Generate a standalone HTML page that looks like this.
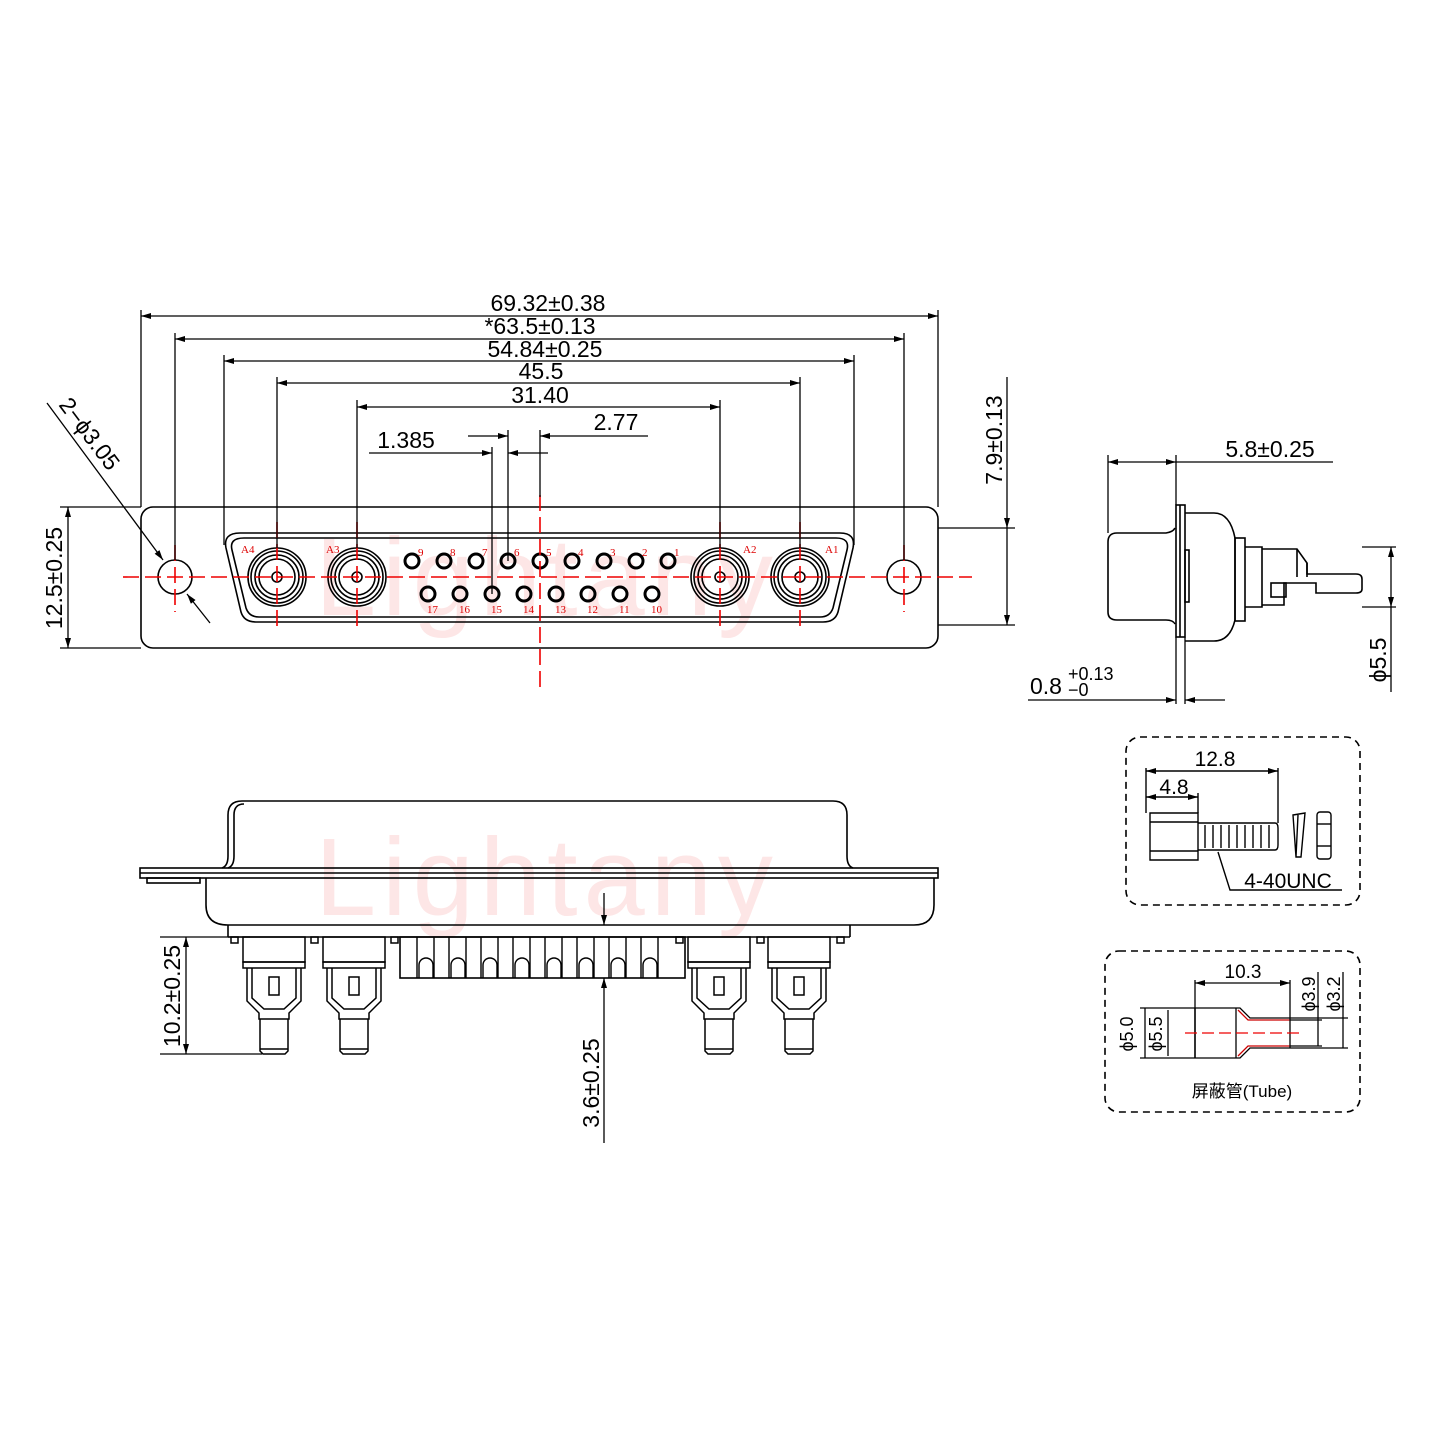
<!DOCTYPE html>
<html><head><meta charset="utf-8"><style>
html,body{margin:0;padding:0;background:#fff;width:1440px;height:1440px;overflow:hidden}
svg{display:block}
text{font-family:"Liberation Sans","Noto Sans CJK SC",sans-serif;fill:#000}
.r{fill:#d00;font-family:"Liberation Serif",serif;font-size:11px}
</style></head><body>
<svg width="1440" height="1440" viewBox="0 0 1440 1440" xmlns="http://www.w3.org/2000/svg">
<defs>
<marker id="a" viewBox="0 0 10 6" refX="10" refY="3" markerWidth="14" markerHeight="6" orient="auto-start-reverse" markerUnits="userSpaceOnUse"><path d="M0,0 L10,3 L0,6 z" fill="#000"/></marker>
<g id="cx">
<circle cx="0" cy="0" r="29"/><circle cx="0" cy="0" r="26"/><circle cx="0" cy="0" r="22"/><circle cx="0" cy="0" r="18"/><circle cx="0" cy="0" r="5"/>
</g>
<g id="ct">
<rect x="-31" y="0" width="62" height="25"/><rect x="-31" y="25" width="62" height="6"/>
<path d="M-27,31 V64 L-15,76 V82 H15 V76 L27,64 V31"/>
<path d="M-22,31 V61 L-10,72 H10 L22,61 V31"/>
<rect x="-5" y="40" width="10" height="18"/>
<path d="M-14,82 V114 L-11,117 H11 L14,114 V82"/>
<line x1="-14" y1="112" x2="14" y2="112"/>
</g>
</defs>
<!-- watermark -->
<text x="315" y="615" font-size="110" style="fill:#fde6e6" letter-spacing="6">Lightany</text>
<text x="315" y="915" font-size="110" style="fill:#fde6e6" letter-spacing="6">Lightany</text>

<g fill="none" stroke="#000" stroke-width="1.6">
<rect x="141" y="507" width="797" height="141" rx="12"/>
<circle cx="175" cy="577" r="17"/>
<circle cx="904" cy="577" r="17"/>
<path d="M240,533 H840 Q856,533 853,548 L838,612 Q835,622 823,622 H256 Q244,622 241,612 L226,548 Q223,533 240,533 Z"/>
<path d="M244,538 H836 Q850,538 847,550 L833,608 Q830,617 820,617 H259 Q249,617 246,608 L232,550 Q229,538 244,538 Z"/>
</g>
<g fill="none" stroke="#000" stroke-width="1.6">
<use href="#cx" x="277" y="577"/><use href="#cx" x="357" y="577"/><use href="#cx" x="720" y="577"/><use href="#cx" x="800" y="577"/>
</g>
<g fill="none" stroke="#000" stroke-width="3">
<circle cx="412" cy="561" r="7"/><circle cx="444" cy="561" r="7"/><circle cx="476" cy="561" r="7"/><circle cx="508" cy="561" r="7"/><circle cx="540" cy="561" r="7"/><circle cx="572" cy="561" r="7"/><circle cx="604" cy="561" r="7"/><circle cx="636" cy="561" r="7"/><circle cx="668" cy="561" r="7"/>
<circle cx="428" cy="594" r="7"/><circle cx="460" cy="594" r="7"/><circle cx="492" cy="594" r="7"/><circle cx="524" cy="594" r="7"/><circle cx="556" cy="594" r="7"/><circle cx="588" cy="594" r="7"/><circle cx="620" cy="594" r="7"/><circle cx="652" cy="594" r="7"/>
</g>
<g>
<text class="r" x="241" y="553">A4</text><text class="r" x="326" y="553">A3</text><text class="r" x="743" y="553">A2</text><text class="r" x="825" y="553">A1</text>
<text class="r" x="418" y="556">9</text><text class="r" x="450" y="556">8</text><text class="r" x="482" y="556">7</text><text class="r" x="514" y="556">6</text><text class="r" x="546" y="556">5</text><text class="r" x="578" y="556">4</text><text class="r" x="610" y="556">3</text><text class="r" x="642" y="556">2</text><text class="r" x="674" y="556">1</text>
<text class="r" x="427" y="613">17</text><text class="r" x="459" y="613">16</text><text class="r" x="491" y="613">15</text><text class="r" x="523" y="613">14</text><text class="r" x="555" y="613">13</text><text class="r" x="587" y="613">12</text><text class="r" x="619" y="613">11</text><text class="r" x="651" y="613">10</text>
</g>
<g stroke="#e00" stroke-width="1.6" stroke-dasharray="16,6" fill="none">
<line x1="123" y1="577" x2="972" y2="577"/>
<line x1="540" y1="495" x2="540" y2="688"/>
<line x1="175" y1="545" x2="175" y2="612"/><line x1="904" y1="545" x2="904" y2="612"/>
<line x1="277" y1="522" x2="277" y2="632"/><line x1="357" y1="522" x2="357" y2="632"/><line x1="720" y1="522" x2="720" y2="632"/><line x1="800" y1="522" x2="800" y2="632"/>
</g>
<g stroke="#000" stroke-width="1.3">
<line x1="141" y1="310" x2="141" y2="507"/><line x1="938" y1="310" x2="938" y2="507"/>
<line x1="175" y1="333" x2="175" y2="560"/><line x1="904" y1="333" x2="904" y2="560"/>
<line x1="224" y1="355" x2="224" y2="545"/><line x1="854" y1="355" x2="854" y2="545"/>
<line x1="277" y1="377" x2="277" y2="548"/><line x1="800" y1="377" x2="800" y2="548"/>
<line x1="357" y1="400" x2="357" y2="548"/><line x1="720" y1="400" x2="720" y2="548"/>
<line x1="492" y1="447" x2="492" y2="594"/><line x1="508" y1="430" x2="508" y2="561"/><line x1="540" y1="430" x2="540" y2="497"/>
<line x1="938" y1="528" x2="1015" y2="528"/><line x1="938" y1="625" x2="1015" y2="625"/>
<line x1="60" y1="507" x2="141" y2="507"/><line x1="60" y1="648" x2="141" y2="648"/>
</g>
<g stroke="#000" stroke-width="1.3" fill="none">
<line x1="141" y1="316" x2="938" y2="316" marker-start="url(#a)" marker-end="url(#a)"/>
<line x1="175" y1="339" x2="904" y2="339" marker-start="url(#a)" marker-end="url(#a)"/>
<line x1="224" y1="361" x2="854" y2="361" marker-start="url(#a)" marker-end="url(#a)"/>
<line x1="277" y1="383" x2="800" y2="383" marker-start="url(#a)" marker-end="url(#a)"/>
<line x1="357" y1="407" x2="720" y2="407" marker-start="url(#a)" marker-end="url(#a)"/>
<line x1="369" y1="453" x2="492" y2="453" marker-end="url(#a)"/><line x1="548" y1="453" x2="508" y2="453" marker-end="url(#a)"/>
<line x1="468" y1="436" x2="508" y2="436" marker-end="url(#a)"/><line x1="648" y1="436" x2="540" y2="436" marker-end="url(#a)"/>
<line x1="1007" y1="377" x2="1007" y2="528" marker-end="url(#a)"/><line x1="1007" y1="625" x2="1007" y2="528" marker-start="url(#a)"/>
<line x1="68" y1="507" x2="68" y2="648" marker-start="url(#a)" marker-end="url(#a)"/>
<line x1="47" y1="403" x2="163" y2="560" marker-end="url(#a)"/>
<line x1="210" y1="623" x2="187" y2="594" marker-end="url(#a)"/>
</g>
<g font-size="23">
<text x="548" y="311" text-anchor="middle">69.32±0.38</text>
<text x="540" y="334" text-anchor="middle">*63.5±0.13</text>
<text x="545" y="357" text-anchor="middle">54.84±0.25</text>
<text x="541" y="379" text-anchor="middle">45.5</text>
<text x="540" y="403" text-anchor="middle">31.40</text>
<text x="406" y="448" text-anchor="middle">1.385</text>
<text x="616" y="430" text-anchor="middle">2.77</text>
<text transform="translate(1002,440) rotate(-90)" text-anchor="middle">7.9±0.13</text>
<text transform="translate(62,578) rotate(-90)" text-anchor="middle">12.5±0.25</text>
<text transform="translate(58,405) rotate(53)">2−ϕ3.05</text>
</g>

<!-- side view -->
<g fill="none" stroke="#000" stroke-width="1.6">
<path d="M1175,528 Q1173,532 1166,533 H1117 Q1108,533 1108,542 V612 Q1108,620 1117,620 H1166 Q1173,620 1175,624"/>
<rect x="1176" y="505" width="9" height="132"/><line x1="1180" y1="505" x2="1180" y2="637"/>
<rect x="1185" y="550" width="4" height="52"/>
<path d="M1185,513 H1214 Q1230,513 1235,538 V620 Q1230,641 1214,641 H1185"/>
<rect x="1235" y="538" width="10" height="83"/>
<path d="M1245,547 H1262 V607 H1245"/>
<path d="M1262,549 H1297 L1307,563 V574 H1356 Q1362,574 1362,579 V589 Q1362,593 1356,593 H1316 V583 H1284 V605 H1262"/>
<line x1="1297" y1="549" x2="1297" y2="577"/><line x1="1307" y1="563" x2="1307" y2="577"/>
<rect x="1271" y="583" width="15" height="14"/>
</g>
<g stroke="#000" stroke-width="1.3" fill="none">
<line x1="1108" y1="455" x2="1108" y2="533"/><line x1="1176" y1="455" x2="1176" y2="505"/>
<line x1="1108" y1="462" x2="1176" y2="462" marker-start="url(#a)" marker-end="url(#a)"/><line x1="1176" y1="462" x2="1333" y2="462"/>
<line x1="1176" y1="637" x2="1176" y2="704"/><line x1="1185" y1="637" x2="1185" y2="704"/>
<line x1="1028" y1="700" x2="1176" y2="700" marker-end="url(#a)"/><line x1="1225" y1="700" x2="1185" y2="700" marker-end="url(#a)"/>
<line x1="1362" y1="547" x2="1396" y2="547"/><line x1="1362" y1="607" x2="1396" y2="607"/>
<line x1="1391" y1="547" x2="1391" y2="607" marker-start="url(#a)" marker-end="url(#a)"/><line x1="1391" y1="607" x2="1391" y2="692"/>
</g>
<text x="1270" y="457" font-size="23" text-anchor="middle">5.8±0.25</text>
<text x="1030" y="694" font-size="23">0.8</text><text x="1068" y="680" font-size="18">+0.13</text><text x="1068" y="696" font-size="18">−0</text>
<text transform="translate(1386,660) rotate(-90)" font-size="23" text-anchor="middle">ϕ5.5</text>

<!-- bottom view -->
<g fill="none" stroke="#000" stroke-width="1.6">
<path d="M222,868 Q228,866 228,856 V815 Q228,801 242,801 H833 Q847,801 847,815 V856 Q847,866 853,868"/>
<path d="M228,868 Q234,866 234,856 V815 Q234,804 244,804"/>
<rect x="140" y="868" width="798" height="10"/><line x1="140" y1="873" x2="938" y2="873"/>
<rect x="147" y="878" width="53" height="5"/>
<path d="M206,878 V905 Q206,925 228,925 H914 Q934,925 934,905 V878"/>
<line x1="228" y1="937" x2="850" y2="937"/><line x1="228" y1="925" x2="228" y2="937"/><line x1="850" y1="925" x2="850" y2="937"/>
<rect x="400" y="937" width="285" height="41"/>
</g>
<g fill="none" stroke="#000" stroke-width="1.5">
<use href="#ct" x="274" y="937"/><use href="#ct" x="354" y="937"/><use href="#ct" x="719" y="937"/><use href="#ct" x="799" y="937"/>
<rect x="231" y="937" width="7" height="6"/><rect x="311" y="937" width="7" height="6"/><rect x="391" y="937" width="7" height="6"/><rect x="676" y="937" width="7" height="6"/><rect x="757" y="937" width="7" height="6"/><rect x="837" y="937" width="7" height="6"/>
</g>
<g fill="none" stroke="#000" stroke-width="1.4">
<path d="M417,937 V978 M434,937 V978 M449,937 V978 M466,937 V978 M481,937 V978 M498,937 V978 M513,937 V978 M530,937 V978 M545,937 V978 M562,937 V978 M577,937 V978 M594,937 V978 M609,937 V978 M626,937 V978 M641,937 V978 M658,937 V978"/>
<path d="M419,978 V965 a7,7 0 0 1 14,0 V978 M451,978 V965 a7,7 0 0 1 14,0 V978 M483,978 V965 a7,7 0 0 1 14,0 V978 M515,978 V965 a7,7 0 0 1 14,0 V978 M547,978 V965 a7,7 0 0 1 14,0 V978 M579,978 V965 a7,7 0 0 1 14,0 V978 M611,978 V965 a7,7 0 0 1 14,0 V978 M643,978 V965 a7,7 0 0 1 14,0 V978"/>
</g>
<g stroke="#000" stroke-width="1.3" fill="none">
<line x1="160" y1="937" x2="250" y2="937"/><line x1="160" y1="1054" x2="262" y2="1054"/>
<line x1="186" y1="937" x2="186" y2="1054" marker-start="url(#a)" marker-end="url(#a)"/>
<line x1="604" y1="893" x2="604" y2="925" marker-end="url(#a)"/>
<line x1="604" y1="1143" x2="604" y2="978" marker-end="url(#a)"/>
</g>
<text transform="translate(180,996) rotate(-90)" font-size="23" text-anchor="middle">10.2±0.25</text>
<text transform="translate(599,1083) rotate(-90)" font-size="23" text-anchor="middle">3.6±0.25</text>

<!-- screw box -->
<rect x="1126" y="737" width="234" height="168" rx="14" fill="none" stroke="#000" stroke-width="1.6" stroke-dasharray="7,5"/>
<g fill="none" stroke="#000" stroke-width="1.4">
<path d="M1150,813 H1198 V860 H1150 Z M1150,822 H1198 M1150,851 H1198"/>
<path d="M1198,823 H1275 Q1278,823 1278,828 V845 Q1278,850 1275,850 H1198"/>
<path d="M1205,825 V848 M1213,825 V848 M1221,825 V848 M1229,825 V848 M1237,825 V848 M1245,825 V848 M1253,825 V848 M1261,825 V848 M1269,825 V848"/>
<path d="M1293,815 L1305,813 L1301,857 L1296,857 Z M1298,815 L1296,857"/>
<rect x="1317" y="812" width="14" height="47" rx="3"/><line x1="1317" y1="824" x2="1331" y2="824"/><line x1="1317" y1="846" x2="1331" y2="846"/>
<line x1="1146" y1="768" x2="1146" y2="813"/><line x1="1198" y1="793" x2="1198" y2="813"/><line x1="1278" y1="768" x2="1278" y2="823"/>
<line x1="1146" y1="771" x2="1278" y2="771" marker-start="url(#a)" marker-end="url(#a)"/>
<line x1="1146" y1="797" x2="1198" y2="797" marker-start="url(#a)" marker-end="url(#a)"/>
<path d="M1218,852 L1230,890 H1342"/>
</g>
<text x="1215" y="766" font-size="21" text-anchor="middle">12.8</text>
<text x="1174" y="794" font-size="21" text-anchor="middle">4.8</text>
<text x="1288" y="888" font-size="21" text-anchor="middle">4-40UNC</text>

<!-- tube box -->
<rect x="1105" y="951" width="255" height="161" rx="14" fill="none" stroke="#000" stroke-width="1.6" stroke-dasharray="7,5"/>
<g fill="none" stroke="#000" stroke-width="1.3">
<path d="M1166,1008 H1240 L1250,1018 H1290 M1166,1058 H1240 L1250,1048 H1290"/>
<path d="M1195,1008 V1058" stroke-width="1.6"/><path d="M1236,1008 V1058"/>
<path d="M1238,1010 L1248,1020 H1290 M1238,1056 L1248,1046 H1290" stroke="#c00"/>
<line x1="1290" y1="1018" x2="1290" y2="1048"/>
<line x1="1195" y1="980" x2="1195" y2="1008"/><line x1="1290" y1="980" x2="1290" y2="1018"/>
<line x1="1195" y1="983" x2="1290" y2="983" marker-start="url(#a)" marker-end="url(#a)"/>
<line x1="1140" y1="1008" x2="1166" y2="1008"/><line x1="1140" y1="1058" x2="1166" y2="1058"/>
<line x1="1145" y1="1008" x2="1145" y2="1058"/><line x1="1168" y1="1010" x2="1168" y2="1056"/>
<line x1="1290" y1="1020" x2="1322" y2="1020"/><line x1="1290" y1="1046" x2="1322" y2="1046"/>
<line x1="1290" y1="1018" x2="1348" y2="1018"/><line x1="1290" y1="1048" x2="1348" y2="1048"/>
<line x1="1318" y1="972" x2="1318" y2="1046"/><line x1="1343" y1="972" x2="1343" y2="1048"/>
</g>
<line x1="1185" y1="1033" x2="1300" y2="1033" stroke="#e00" stroke-width="1.3" stroke-dasharray="12,5"/>
<text x="1243" y="978" font-size="19" text-anchor="middle">10.3</text>
<text transform="translate(1133,1034) rotate(-90)" font-size="18" text-anchor="middle">ϕ5.0</text>
<text transform="translate(1162,1034) rotate(-90)" font-size="18" text-anchor="middle">ϕ5.5</text>
<text transform="translate(1315,994) rotate(-90)" font-size="18" text-anchor="middle">ϕ3.9</text>
<text transform="translate(1340,994) rotate(-90)" font-size="18" text-anchor="middle">ϕ3.2</text>
<text x="1242" y="1097" font-size="17" text-anchor="middle">屏蔽管(Tube)</text>
</svg>
</body></html>
